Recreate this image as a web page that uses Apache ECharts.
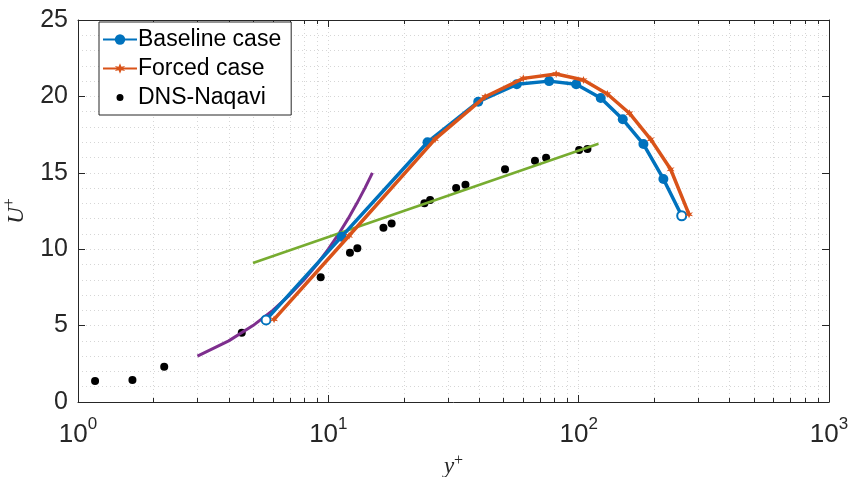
<!DOCTYPE html>
<html><head><meta charset="utf-8">
<script src="https://cdn.jsdelivr.net/npm/echarts@6/dist/echarts.min.js"></script>
<style>html,body{margin:0;padding:0;background:#fff}#c{width:851px;height:477px}</style>
</head><body><div id="c"></div>
<script>
// ---- data ----
const baselineX = [5.64, 11.3, 24.9, 39.7, 56.6, 76.2, 97.7, 122.5, 150, 181.4, 218, 258];
const baselineY = [5.37, 10.82, 17.0, 19.65, 20.79, 21.0, 20.79, 19.9, 18.5, 16.88, 14.6, 12.19];
const forcedX = [6.07, 12.1, 26.7, 42.3, 60.1, 81.3, 104.5, 130.2, 159.5, 194, 233, 276];
const forcedY = [5.41, 10.88, 17.2, 19.98, 21.18, 21.47, 21.07, 20.16, 18.9, 17.19, 15.23, 12.28];
const dnsX = [1.17, 1.65, 2.21, 4.51, 9.32, 12.2, 13.06, 16.6, 17.9, 24.2, 25.5, 32.4, 35.3, 50.8, 66.9, 74.1, 100.4, 108.4];
const dnsY = [1.37, 1.44, 2.31, 4.54, 8.16, 9.77, 10.06, 11.41, 11.69, 13.0, 13.22, 14.0, 14.22, 15.23, 15.79, 15.99, 16.49, 16.56];
const viscousX = [3, 4, 5, 6, 7, 8, 9, 10, 11, 12, 13, 14, 15];
const viscousY = [3, 4, 5, 6, 7, 8, 9, 10, 11, 12, 13, 14, 15];
const logLawX = [5, 120];
const logLawY = [9.1, 16.9];
const minorXTicks = [2,3,4,5,6,7,8,9,20,30,40,50,60,70,80,90,200,300,400,500,600,700,800,900];
const seriesNames = ['Baseline case', 'Forced case', 'DNS-Naqavi'];

// ---- chart ----
const axisColor = '#262626';
const gridColor = '#d6d6d6';
const font = 'Liberation Sans, Arial, sans-serif';
const zip = (xs, ys) => xs.map((x, i) => [x, ys[i]]);

const baselineData = zip(baselineX, baselineY).map((p, i, a) =>
  (i === 0 || i === a.length - 1)
    ? { value: p, symbol: 'emptyCircle', symbolSize: 9, itemStyle: { borderWidth: 2.5 } }
    : { value: p });

const starPath = 'path://M0,-10 L2.5,-3.5 L9,-5 L4.5,0 L9,5 L2.5,3.5 L0,10 L-2.5,3.5 L-9,5 L-4.5,0 L-9,-5 L-2.5,-3.5 Z';

const chart = echarts.init(document.getElementById('c'), null, { renderer: 'canvas' });
chart.setOption({
  animation: false,
  backgroundColor: '#fff',
  grid: { left: 78, right: 22, top: 20, bottom: 75, show: false, containLabel: false, outerBoundsMode: 'none' },
  legend: {
    data: [
      { name: seriesNames[0] },
      { name: seriesNames[1] },
      { name: seriesNames[2], itemStyle: { borderColor: '#fff', borderWidth: 6 } }
    ],
    orient: 'vertical', left: 99, top: 22,
    padding: [6, 10, 6, 3], itemGap: 6, itemWidth: 34, itemHeight: 13,
    backgroundColor: '#fff', borderColor: axisColor, borderWidth: 1,
    textStyle: { fontFamily: font, fontSize: 23, color: '#000', padding: [0, 0, 0, -4] }
  },
  xAxis: [{
    type: 'log', logBase: 10, min: 1, max: 1000,
    name: '{i|y}{p|+}', nameLocation: 'middle', nameGap: 46,
    nameTextStyle: { rich: {
      i: { fontFamily: 'Liberation Serif, serif', fontStyle: 'italic', fontSize: 23, color: axisColor },
      p: { fontFamily: 'Liberation Serif, serif', fontSize: 16, color: axisColor, padding: [0, 0, 14, 0] }
    } },
    axisLine: { show: true, onZero: false, lineStyle: { color: axisColor, width: 1 } },
    axisTick: { show: true, inside: true, length: 7, lineStyle: { color: axisColor } },
    splitLine: { show: true, lineStyle: { color: gridColor, type: [1, 3] } },
    axisLabel: {
      margin: 14,
      formatter: v => '{b|10}{s|' + Math.round(Math.log10(v)) + '}',
      rich: {
        b: { fontFamily: font, fontSize: 26, color: axisColor },
        s: { fontFamily: font, fontSize: 17, color: axisColor, padding: [0, 0, 20, 0] }
      }
    }
  }, {
    type: 'log', logBase: 10, min: 1, max: 1000, position: 'top',
    axisLine: { show: true, onZero: false, lineStyle: { color: axisColor, width: 1 } },
    axisTick: { show: true, inside: true, length: 7, lineStyle: { color: axisColor } },
    axisLabel: { show: false }, splitLine: { show: false }
  }],
  yAxis: [{
    type: 'value', min: 0, max: 25, interval: 5,
    name: '{i|U}{p|+}', nameLocation: 'middle', nameGap: 46, nameRotate: 90,
    nameTextStyle: { rich: {
      i: { fontFamily: 'Liberation Serif, serif', fontStyle: 'italic', fontSize: 23, color: axisColor },
      p: { fontFamily: 'Liberation Serif, serif', fontSize: 16, color: axisColor, padding: [0, 0, 14, 0] }
    } },
    axisLine: { show: true, onZero: false, lineStyle: { color: axisColor, width: 1 } },
    axisTick: { show: true, inside: true, length: 7, lineStyle: { color: axisColor } },
    axisLabel: { margin: 10, fontFamily: font, fontSize: 25, color: axisColor },
    splitLine: { show: true, lineStyle: { color: gridColor, type: [1, 3] } },
    minorTick: { show: false, splitNumber: 5 },
    minorSplitLine: { show: true, lineStyle: { color: gridColor, type: [1, 3] } }
  }, {
    type: 'value', min: 0, max: 25, interval: 5, position: 'right',
    axisLine: { show: true, onZero: false, lineStyle: { color: axisColor, width: 1 } },
    axisTick: { show: true, inside: true, length: 7, lineStyle: { color: axisColor } },
    axisLabel: { show: false }, splitLine: { show: false }
  }],
  series: [
    {
      type: 'custom', silent: true, z: 0,
      data: minorXTicks.map(v => [v, 0]),
      encode: { x: 0, y: 1 },
      renderItem: (params, api) => {
        const v = api.value(0);
        const pb = api.coord([v, 0]);
        const pt = api.coord([v, 25]);
        const x = Math.round(pb[0]) + 0.5;
        return { type: 'group', children: [
          { type: 'line', shape: { x1: x, y1: pb[1], x2: x, y2: pt[1] }, style: { stroke: gridColor, lineWidth: 1, lineDash: [1, 3] } },
          { type: 'line', shape: { x1: x, y1: pb[1], x2: x, y2: pb[1] - 4 }, style: { stroke: axisColor, lineWidth: 1 } },
          { type: 'line', shape: { x1: x, y1: pt[1], x2: x, y2: pt[1] + 4 }, style: { stroke: axisColor, lineWidth: 1 } }
        ] };
      }
    },
    {
      name: seriesNames[2], type: 'scatter', z: 3,
      data: zip(dnsX, dnsY), symbol: 'circle', symbolSize: 8,
      itemStyle: { color: '#000', opacity: 1 }
    },
    {
      name: 'viscous', type: 'line', z: 4, smooth: false,
      data: zip(viscousX, viscousY), showSymbol: false, symbol: 'none',
      lineStyle: { color: '#7E2F8E', width: 3 }
    },
    {
      name: 'loglaw', type: 'line', z: 4,
      data: zip(logLawX, logLawY), showSymbol: false, symbol: 'none',
      lineStyle: { color: '#77AC30', width: 2.5 }
    },
    {
      name: seriesNames[0], type: 'line', z: 5,
      data: baselineData, symbol: 'circle', symbolSize: 10, showAllSymbol: true,
      color: '#0072BD',
      lineStyle: { color: '#0072BD', width: 3.5 },
      itemStyle: { color: '#0072BD' }
    },
    {
      name: seriesNames[1], type: 'line', z: 6,
      data: zip(forcedX, forcedY), symbol: starPath, symbolSize: 8, showAllSymbol: true,
      color: '#D95319',
      lineStyle: { color: '#D95319', width: 3.5 },
      itemStyle: { color: '#D95319' }
    }
  ]
});
</script>
</body></html>
